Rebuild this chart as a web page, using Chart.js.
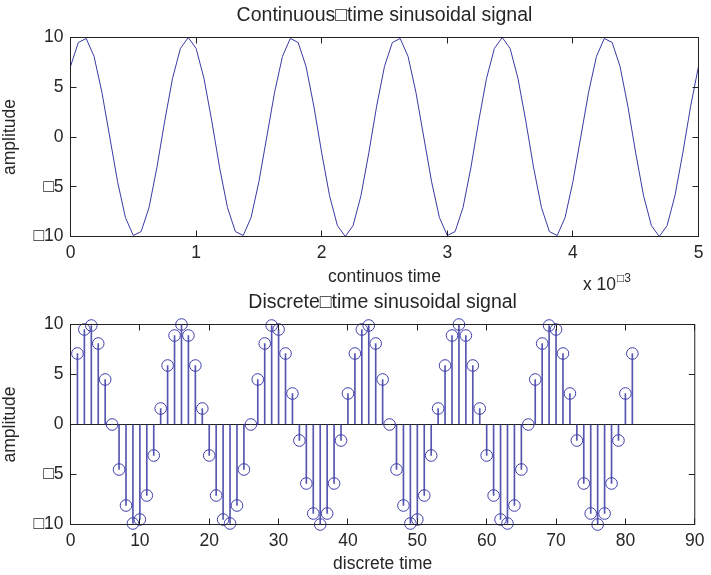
<!DOCTYPE html>
<html>
<head>
<meta charset="utf-8">
<script src="https://cdn.jsdelivr.net/npm/chart.js@4/dist/chart.umd.min.js"></script>
<style>
  html, body { margin: 0; padding: 0; background: #ffffff; }
  #wrap { position: relative; width: 711px; height: 575px; overflow: hidden; background: #ffffff; }
  canvas { position: absolute; left: 0; }
  #c1 { top: 0px; }
  #c2 { top: 287px; }
</style>
</head>
<body>
<div id="wrap">
  <canvas id="c1" width="711" height="300" style="width:711px;height:300px"></canvas>
  <canvas id="c2" width="711" height="288" style="width:711px;height:288px"></canvas>
</div>
<script>
// ---- data ----
// sample amplitudes (81 samples); the same samples are drawn as a line (top) and as stems (bottom)
const sampleAmp = [7.1, 9.5, 9.9, 8.1, 4.5, 0, -4.5, -8.1, -9.9, -9.5, -7.1, -3.1, 1.6, 5.9, 8.9, 10, 8.9, 5.9, 1.6, -3.1,
  -7.1, -9.5, -9.9, -8.1, -4.5, 0, 4.5, 8.1, 9.9, 9.5, 7.1, 3.1, -1.6, -5.9, -8.9, -10, -8.9, -5.9, -1.6, 3.1,
  7.1, 9.5, 9.9, 8.1, 4.5, 0, -4.5, -8.1, -9.9, -9.5, -7.1, -3.1, 1.6, 5.9, 8.9, 10, 8.9, 5.9, 1.6, -3.1,
  -7.1, -9.5, -9.9, -8.1, -4.5, 0, 4.5, 8.1, 9.9, 9.5, 7.1, 3.1, -1.6, -5.9, -8.9, -10, -8.9, -5.9, -1.6, 3.1,
  7.1];
const sampleStepMs = 0.0625;          // continuous-time axis is in units of 1e-3 s
const topXTicks = [0, 1, 2, 3, 4, 5];
const bottomXTicks = [0, 10, 20, 30, 40, 50, 60, 70, 80, 90];
const yTicks = [-10, -5, 0, 5, 10];
const BOX = '\u25A1';
const titles = ['Continuous' + BOX + 'time sinusoidal signal', 'Discrete' + BOX + 'time sinusoidal signal'];
const xTitles = ['continuos time', 'discrete time'];
const yTitle = 'amplitude';

const continuousPts = sampleAmp.map((v, i) => ({ x: i * sampleStepMs, y: v }));
const discretePts = sampleAmp.map((v, i) => ({ x: i + 1, y: v }));

const FONT = "'Liberation Sans', Arial, Helvetica, sans-serif";
const TXT = '#262626';
const AX = '#222222';

function yLabel(v) { return v < 0 ? BOX + Math.abs(v) : String(v); }

const framePlugin = {
  id: 'frame',
  afterDraw(chart) {
    const ctx = chart.ctx, a = chart.chartArea;
    const xs = chart.scales.x, ys = chart.scales.y;
    const L = 6;
    ctx.save();
    ctx.strokeStyle = AX;
    ctx.lineWidth = 1;
    ctx.beginPath();
    xs.ticks.forEach(t => {
      const px = Math.round(xs.getPixelForValue(t.value) - 0.5) + 0.5;
      ctx.moveTo(px, a.bottom); ctx.lineTo(px, a.bottom - L);
      ctx.moveTo(px, a.top); ctx.lineTo(px, a.top + L);
    });
    ys.ticks.forEach(t => {
      const py = Math.round(ys.getPixelForValue(t.value) - 0.5) + 0.5;
      ctx.moveTo(a.left, py); ctx.lineTo(a.left + L, py);
      ctx.moveTo(a.right, py); ctx.lineTo(a.right - L, py);
    });
    ctx.stroke();
    ctx.strokeRect(a.left, a.top, a.right - a.left, a.bottom - a.top);
    ctx.restore();
  }
};

const exponentPlugin = {
  id: 'exponent',
  afterDraw(chart) {
    const ctx = chart.ctx;
    ctx.save();
    ctx.fillStyle = TXT;
    ctx.textBaseline = 'alphabetic';
    ctx.textAlign = 'left';
    ctx.font = '17.5px ' + FONT;
    const base = 'x 10';
    const x0 = 583;
    ctx.fillText(base, x0, 290);
    const w = ctx.measureText(base).width;
    ctx.font = '12px ' + FONT;
    ctx.fillText(BOX + '3', x0 + w + 1, 282);
    ctx.restore();
  }
};

function baseOptions(idx, xMin, xMax, xTickVals, padBottom, xAxisH, zeroLine) {
  return {
    responsive: false,
    animation: false,
    devicePixelRatio: 1,
    layout: { padding: { left: 0, right: 12.5, top: 0, bottom: padBottom } },
    plugins: {
      legend: { display: false },
      tooltip: { enabled: false },
      title: {
        display: true, text: titles[idx], color: TXT, fullSize: false,
        font: { family: FONT, size: 19.5, weight: 'normal', lineHeight: 1.2 },
        padding: { top: 3.8, bottom: 10.3 }
      }
    },
    scales: {
      x: {
        type: 'linear', min: xMin, max: xMax, offset: false,
        afterBuildTicks: s => { s.ticks = xTickVals.map(v => ({ value: v })); },
        ticks: { color: TXT, padding: 6.5, maxRotation: 0, autoSkip: false,
          font: { family: FONT, size: 17.5, lineHeight: 1.2 } },
        grid: { display: false, drawTicks: false, offset: false },
        border: { display: false },
        title: { display: true, text: xTitles[idx], color: TXT, padding: 0,
          font: { family: FONT, size: 17.5, lineHeight: 1.2 } },
        afterFit: s => { s.height = xAxisH; }
      },
      y: {
        type: 'linear', min: -10, max: 10,
        afterBuildTicks: s => { s.ticks = yTicks.map(v => ({ value: v })); },
        ticks: { color: TXT, padding: 7, callback: v => yLabel(v),
          font: { family: FONT, size: 17.5, lineHeight: 1.2 } },
        grid: { display: zeroLine, drawTicks: false,
          color: c => (c.tick && c.tick.value === 0) ? AX : 'rgba(0,0,0,0)', lineWidth: 1 },
        border: { display: false },
        title: { display: true, text: yTitle, color: TXT, padding: 0,
          font: { family: FONT, size: 17.5, lineHeight: 1.2 } },
        afterFit: s => { s.width = 70.5; }
      }
    }
  };
}

new Chart(document.getElementById('c1'), {
  type: 'line',
  data: {
    datasets: [{
      data: continuousPts,
      borderColor: '#3a3aa4', borderWidth: 1, pointRadius: 0, tension: 0, fill: false
    }]
  },
  options: baseOptions(0, 0, 5, topXTicks, 12.5, 51, false),
  plugins: [framePlugin, exponentPlugin]
});

new Chart(document.getElementById('c2'), {
  type: 'bar',
  data: {
    datasets: [
      {
        type: 'bar', data: discretePts, backgroundColor: '#5656b0', borderWidth: 0,
        barThickness: 1, order: 2
      },
      {
        type: 'line', data: discretePts, showLine: false, pointStyle: 'circle',
        pointRadius: 5.8, pointBorderWidth: 1, pointBorderColor: '#3c3caa',
        pointBackgroundColor: 'rgba(0,0,0,0)', clip: false, order: 1
      }
    ]
  },
  options: baseOptions(1, 0, 90, bottomXTicks, 0, 50.5, true),
  plugins: [framePlugin]
});
</script>
</body>
</html>
